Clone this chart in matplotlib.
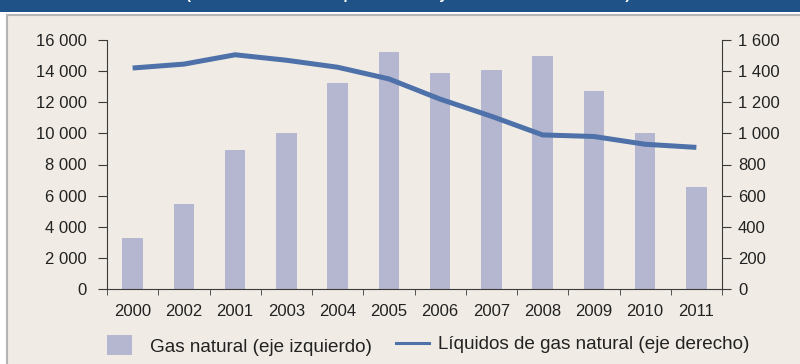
import matplotlib
matplotlib.use("Agg")
import matplotlib.pyplot as plt
from matplotlib.patches import Rectangle, Patch
from matplotlib.lines import Line2D
from matplotlib.ticker import FuncFormatter
import numpy as np

# years as printed on the axis (order kept as in the source table)
years = ["2000", "2002", "2001", "2003", "2004", "2005",
         "2006", "2007", "2008", "2009", "2010", "2011"]
gas_natural = [3300, 5450, 8900, 10000, 13250, 15200,
               13850, 14050, 14950, 12700, 10000, 6550]
liquidos = [1420, 1445, 1505, 1470, 1425, 1350,
            1220, 1110, 990, 980, 930, 910]

titulo = "(miles de millones de pies cúbicos y miles de barriles diarios)"
label_gas = "Gas natural (eje izquierdo)"
label_liq = "Líquidos de gas natural (eje derecho)"

bar_color = "#b5b6d0"
line_color = "#4d71a8"
bg_color = "#f0ece5"
text_color = "#222222"
axis_color = "#3a3a3a"

plt.rcParams["font.family"] = ["Liberation Sans", "DejaVu Sans"]
plt.rcParams["font.size"] = 12

W, H = 800, 364
fig = plt.figure(figsize=(W / 100, H / 100), dpi=100, facecolor="white")

# background panel and blue banner
fig.patches.append(Rectangle((7 / W, -0.05), 1.1, (H - 15) / H + 0.05,
                             transform=fig.transFigure, facecolor=bg_color,
                             edgecolor="#b5b5b5", lw=1.5, zorder=-10))
fig.patches.append(Rectangle((0, 1 - 12 / H), 1, 12 / H,
                             transform=fig.transFigure, facecolor="#1f5287",
                             edgecolor="none", zorder=-10))
fig.text(408 / W, 1 + 1.5 / H, titulo, color="white", fontsize=10.9,
         fontweight="bold", ha="center", va="baseline")

left, right, bottom, top = 107, 722, 289, 40
ax = fig.add_axes([left / W, 1 - bottom / H, (right - left) / W, (bottom - top) / H])
ax.set_facecolor("none")

x = np.arange(len(years))
ax.bar(x, gas_natural, width=0.4, color=bar_color, zorder=2)
ax.set_xlim(-0.5, len(years) - 0.5)
ax.set_ylim(0, 16000)
ax.set_yticks(np.arange(0, 16001, 2000))

fmt = FuncFormatter(lambda v, p: "{:,.0f}".format(v).replace(",", " "))
ax.yaxis.set_major_formatter(fmt)

# category labels centred, tick marks between categories
ax.set_xticks(x)
ax.set_xticklabels(years)
ax.set_xticks(np.arange(-0.5, len(years)), minor=True)
ax.tick_params(axis="x", which="major", length=0, pad=11, colors=text_color)
ax.tick_params(axis="x", which="minor", length=4.5, color=axis_color)
ax.tick_params(axis="y", length=6.5, color=axis_color, colors=text_color, pad=8)

for side in ["top", "right"]:
    ax.spines[side].set_visible(False)
for side in ["left", "bottom"]:
    ax.spines[side].set_color(axis_color)

ax2 = ax.twinx()
ax2.plot(x, liquidos, color=line_color, lw=3.6, solid_capstyle="butt", zorder=3)
ax2.set_ylim(0, 1600)
ax2.set_yticks(np.arange(0, 1601, 200))
ax2.yaxis.set_major_formatter(fmt)
ax2.tick_params(axis="y", length=6.5, color=axis_color, colors=text_color, pad=5)
for side in ["top", "left", "bottom"]:
    ax2.spines[side].set_visible(False)
ax2.spines["right"].set_color(axis_color)

# legend: two pieces so each handle keeps its own size
leg1 = fig.legend(handles=[Patch(facecolor=bar_color, edgecolor="none")],
                  labels=[label_gas], loc="center left",
                  bbox_to_anchor=(107 / W, 1 - 345.5 / H), frameon=False,
                  borderpad=0, borderaxespad=0, handlelength=1.32,
                  handleheight=1.22, handletextpad=0.95, labelcolor=text_color,
                  fontsize=13.6)
leg2 = fig.legend(handles=[Line2D([], [], color=line_color, lw=2.2)],
                  labels=[label_liq], loc="center left",
                  bbox_to_anchor=(396 / W, 1 - 344.5 / H), frameon=False,
                  borderpad=0, borderaxespad=0, handlelength=1.75,
                  handletextpad=0.47, labelcolor=text_color, fontsize=13.6)

fig.savefig("out.png", dpi=100, facecolor=fig.get_facecolor())
